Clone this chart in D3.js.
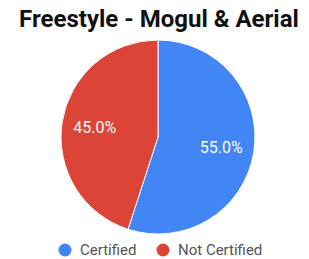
<!DOCTYPE html>
<html>
<head>
<meta charset="utf-8">
<script src="https://cdn.jsdelivr.net/npm/d3@7"></script>
<style>
  body { margin: 0; background: #fff; }
  text { font-family: Roboto, "Noto Sans", sans-serif; }
</style>
</head>
<body>
<div id="render-here"></div>
<script>
const categories = ['Certified', 'Not Certified'];
const values = [55.0, 45.0];
const colors = ['#4285f4', '#db4437'];
const title = 'Freestyle - Mogul & Aerial';

const width = 309;
const height = 259;
const cx = 158;
const cy = 137;
const radius = 97;

const data = categories.map((c, i) => ({ name: c, value: values[i], color: colors[i] }));

const svg = d3.select('#render-here')
    .append('svg')
    .attr('width', width)
    .attr('height', height);

svg.append('text')
    .attr('x', 159)
    .attr('y', 27)
    .attr('text-anchor', 'middle')
    .attr('font-size', 24)
    .attr('font-weight', 700)
    .attr('fill', '#111')
    .text(title);

const pie = d3.pie().sort(null).value(d => d.value);
const arc = d3.arc().innerRadius(0).outerRadius(radius);
const labelArc = d3.arc().innerRadius(radius * 0.66).outerRadius(radius * 0.66);

const g = svg.append('g')
    .attr('transform', `translate(${cx},${cy})`);

const slices = g.selectAll('g.slice')
    .data(pie(data))
    .enter().append('g')
    .attr('class', 'slice');

slices.append('path')
    .attr('d', arc)
    .attr('fill', d => d.data.color)
    .attr('stroke', '#fff')
    .attr('stroke-width', 1);

slices.append('text')
    .attr('transform', d => `translate(${labelArc.centroid(d)})`)
    .attr('text-anchor', 'middle')
    .attr('dy', '0.35em')
    .attr('font-size', 16)
    .attr('fill', '#fff')
    .text(d => d.data.value.toFixed(1) + '%');

// legend
const legendX = [65, 163];
const legend = svg.append('g')
    .selectAll('g')
    .data(data)
    .enter().append('g')
    .attr('transform', (d, i) => `translate(${legendX[i]},250)`);

legend.append('circle')
    .attr('r', 6.5)
    .attr('fill', d => d.color);

legend.append('text')
    .attr('x', 15)
    .attr('dy', '0.35em')
    .attr('font-size', 15)
    .attr('fill', '#555')
    .text(d => d.name);
</script>
</body>
</html>
